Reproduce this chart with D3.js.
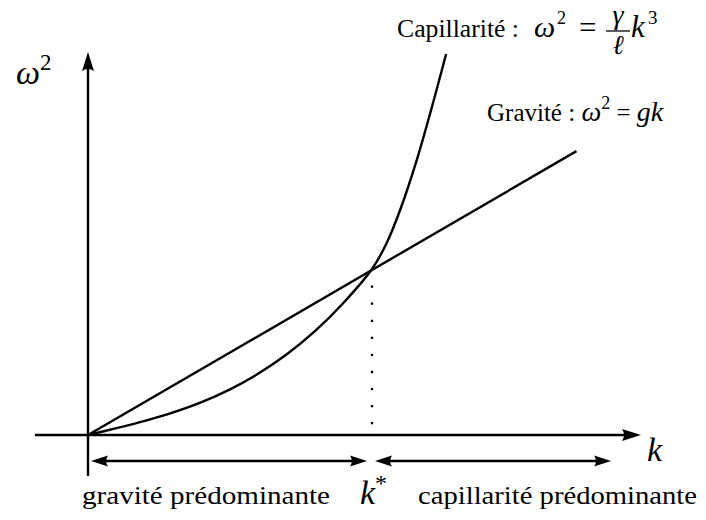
<!DOCTYPE html>
<html>
<head>
<meta charset="utf-8">
<script src="https://cdn.jsdelivr.net/npm/d3@7"></script>
</head>
<body style="margin:0">
<svg id="chart" width="706" height="520"></svg>
<script>
// Dispersion relation of surface waves: gravity branch (linear in k)
// and capillary branch (steep), crossing at k*.
const gravK = [0, 1.72];
const gravW = [0, 1.71];
const capK = [0, 0.1, 0.2, 0.3, 0.4, 0.5, 0.6, 0.7, 0.8, 0.9, 1.0, 1.05, 1.10, 1.16, 1.21, 1.261];
const capW = [0, 0.041, 0.085, 0.136, 0.198, 0.275, 0.370, 0.486, 0.627, 0.797, 1.0, 1.15, 1.36, 1.67, 1.97, 2.295];
const kStar = 1;
const regionLabels = ["gravité prédominante", "capillarité prédominante"];
const axisK = [-0.187, 1.947];
const axisW = [-0.247, 2.307];

const serifFace = "Liberation Serif";
const svg = d3.select("#chart");
const x = d3.scaleLinear().domain([0, 1]).range([88, 372]);
const y = d3.scaleLinear().domain([0, 1]).range([435, 269]);

const SW = 2.4;

// filled arrow tip pointing along angle a (radians) with tip at (tx, ty)
function arrowTip(g, tx, ty, a, L, W) {
  const p = d3.path();
  p.moveTo(0, 0);
  p.quadraticCurveTo(-L * 0.55, -W * 0.55, -L, -W);
  p.quadraticCurveTo(-L * 0.78, 0, -L, W);
  p.quadraticCurveTo(-L * 0.55, W * 0.55, 0, 0);
  p.closePath();
  g.append("path")
    .attr("d", p.toString())
    .attr("transform", `translate(${tx},${ty}) rotate(${a * 180 / Math.PI})`)
    .attr("fill", "#000");
}

function txt(x0, y0, size) {
  return svg.append("text").attr("x", x0).attr("y", y0)
    .attr("font-size", size).style("font-family", serifFace);
}

const gAxes = svg.append("g");
// horizontal axis k
gAxes.append("line")
  .attr("x1", x(axisK[0])).attr("x2", x(axisK[1]) - 10)
  .attr("y1", y(0)).attr("y2", y(0))
  .attr("stroke", "#000").attr("stroke-width", SW);
arrowTip(gAxes, x(axisK[1]), y(0), 0, 19, 6);
// vertical axis omega^2
gAxes.append("line")
  .attr("x1", x(0)).attr("x2", x(0))
  .attr("y1", y(axisW[0])).attr("y2", y(axisW[1]) + 10)
  .attr("stroke", "#000").attr("stroke-width", SW);
arrowTip(gAxes, x(0), y(axisW[1]), -Math.PI / 2, 19, 6);

// curves
const line = d3.line().x(d => x(d[0])).y(d => y(d[1]));
svg.append("path")
  .datum(gravK.map((k, i) => [k, gravW[i]]))
  .attr("d", line)
  .attr("fill", "none").attr("stroke", "#000").attr("stroke-width", SW);
svg.append("path")
  .datum(capK.map((k, i) => [k, capW[i]]))
  .attr("d", line.curve(d3.curveCatmullRom.alpha(0.5)))
  .attr("fill", "none").attr("stroke", "#000").attr("stroke-width", SW);

// dotted drop line from the crossing point
svg.append("line")
  .attr("x1", x(kStar)).attr("x2", x(kStar))
  .attr("y1", y(1) + 16.5).attr("y2", y(0) - 9)
  .attr("stroke", "#000").attr("stroke-width", 2.3)
  .attr("stroke-dasharray", "2.3 14.77");

// region arrows below the axis
const yReg = y(0) + 26;
function doubleArrow(x1, x2) {
  svg.append("line")
    .attr("x1", x1 + 8).attr("x2", x2 - 8)
    .attr("y1", yReg).attr("y2", yReg)
    .attr("stroke", "#000").attr("stroke-width", SW);
  arrowTip(svg, x1, yReg, Math.PI, 17, 5.5);
  arrowTip(svg, x2, yReg, 0, 17, 5.5);
}
doubleArrow(x(0) + 3, x(kStar) - 5);
doubleArrow(x(kStar) + 3, x(1.842));

// axis labels
const yl = txt(16, 84, 34);
yl.append("tspan").style("font-style", "italic").text("ω");
yl.append("tspan").attr("font-size", 23).attr("dy", -14).text("2");

txt(647, 461, 34).style("font-style", "italic").text("k");

const ks = txt(x(kStar) - 12, 504, 34);
ks.append("tspan").style("font-style", "italic").text("k");
ks.append("tspan").attr("font-size", 24).attr("dy", -13).text("*");

txt(82, 504, 25).attr("textLength", 248).attr("lengthAdjust", "spacingAndGlyphs").text(regionLabels[0]);
txt(418, 504, 25).attr("textLength", 279).attr("lengthAdjust", "spacingAndGlyphs").text(regionLabels[1]);

// formula for the gravity branch
const gl = txt(487, 121, 25);
gl.append("tspan").text("Gravité : ");
gl.append("tspan").style("font-style", "italic").attr("font-size", 28).text("ω");
gl.append("tspan").attr("font-size", 18).attr("dy", -12).text("2");
gl.append("tspan").attr("dy", 12).text(" = ");
gl.append("tspan").style("font-style", "italic").attr("font-size", 28).text("gk");

// formula for the capillary branch, with a stacked fraction
txt(397, 37, 25).attr("textLength", 122).attr("lengthAdjust", "spacingAndGlyphs").text("Capillarité :");
txt(534, 37, 30).style("font-style", "italic").text("ω");
txt(557, 24, 18).text("2");
txt(579, 38, 31).text("=");
const fx = 606, fw = 24, fy = 31;
svg.append("line").attr("x1", fx).attr("x2", fx + fw).attr("y1", fy).attr("y2", fy)
  .attr("stroke", "#000").attr("stroke-width", 1.3);
txt(fx + fw / 2, 24, 28).attr("text-anchor", "middle").style("font-style", "italic").text("γ");
txt(fx + fw / 2, 54, 27).attr("text-anchor", "middle").style("font-style", "italic").text("ℓ");
txt(fx + fw + 1, 37, 31).style("font-style", "italic").text("k");
txt(fx + fw + 18, 24, 19).text("3");
</script>
</body>
</html>
